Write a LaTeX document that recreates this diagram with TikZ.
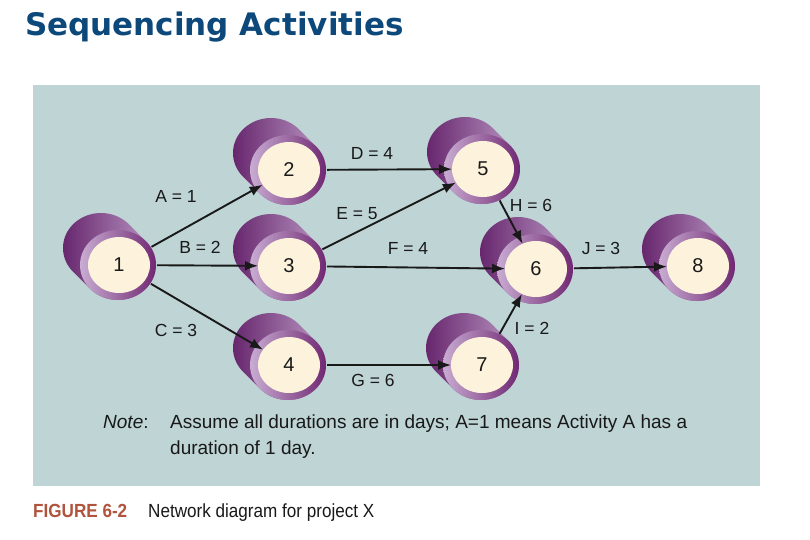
\documentclass[tikz,border=0pt]{standalone}
\usepackage{fontspec}
\setmainfont{Liberation Sans}
\newfontfamily\condfont{Liberation Sans}
\newfontfamily\capfont[FakeStretch=0.9]{Liberation Sans}
\newfontfamily\headfont{DejaVu Sans}
\usepackage{tikz}
\usetikzlibrary{positioning, arrows.meta, shapes.geometric, calc}
\definecolor{ink}{RGB}{25,25,25}
\definecolor{panelbg}{RGB}{190,212,213}
\definecolor{cream}{RGB}{253,243,220}
\definecolor{cyldark}{RGB}{100,34,106}
\definecolor{cyllight}{RGB}{190,158,200}
\definecolor{rimdark}{RGB}{112,40,114}
\definecolor{rimlight}{RGB}{200,172,210}
\definecolor{titleblue}{RGB}{12,72,122}
\definecolor{figred}{RGB}{176,84,62}
% event: name, x, y, number
\newcommand{\evnode}[4]{%
  \shade[left color=cyldark, right color=cyllight]
    (#2-17-26.87,#3+17-24.75) arc[start angle=225, end angle=45, x radius=38pt, y radius=35pt]
    -- (#2+26.87,#3+24.75) arc[start angle=45, end angle=-135, x radius=38pt, y radius=35pt] -- cycle;
  \shade[left color=rimlight, right color=rimdark] (#2,#3) ellipse [x radius=38pt, y radius=35pt];
  \node[evt] (#1) at (#2+1,#3) {#4};
}

\begin{document}
\begin{tikzpicture}[
  x=1pt, y=1pt,
  lbl/.style={font=\condfont\fontsize{17.5}{20}\selectfont, text=ink, inner sep=0pt},
  evt/.style={ellipse, fill=cream, minimum width=62pt, minimum height=56pt,
              inner sep=0pt, outer sep=7pt, text=ink,
              font=\condfont\fontsize{20}{22}\selectfont},
  arr/.style={-{Latex[length=13pt,width=10pt]}, line width=1.9pt, draw=ink, shorten >=-7pt}
]

\useasboundingbox (0,0) rectangle (810,-539);
\fill[white] (0,0) rectangle (810,-539);

\node[anchor=base west, inner sep=0pt, text=titleblue,
      font=\headfont\bfseries\fontsize{31}{36}\selectfont] (title) at (25,-35) {Sequencing Activities};

\node[fill=panelbg, anchor=north west, minimum width=727pt, minimum height=401pt,
      inner sep=0pt] (panel) at (33,-85) {};

\evnode{n1}{118}{-265}{1}
\evnode{n2}{288}{-170}{2}
\evnode{n3}{288}{-266}{3}
\evnode{n4}{288}{-365}{4}
\evnode{n5}{482}{-169}{5}
\evnode{n6}{535}{-269}{6}
\evnode{n7}{481}{-365}{7}
\evnode{n8}{697}{-266}{8}

\draw[arr] (n1) -- (n2);
\draw[arr] (n1) -- (n3);
\draw[arr] (n1) -- (n4);
\draw[arr] (n2) -- (n5);
\draw[arr] (n3) -- (n5);
\draw[arr] (n3) -- (n6);
\draw[arr] (n4) -- (n7);
\draw[arr] (n5) -- (n6);
\draw[arr] (n7) -- (n6);
\draw[arr] (n6) -- (n8);

\node[lbl] (lA) at (176,-196) {A = 1};
\node[lbl] (lB) at (200,-247) {B = 2};
\node[lbl] (lC) at (176,-330) {C = 3};
\node[lbl] (lD) at (372,-153) {D = 4};
\node[lbl] (lE) at (357,-214) {E = 5};
\node[lbl] (lF) at (408,-248) {F = 4};
\node[lbl] (lG) at (373,-380) {G = 6};
\node[lbl] (lH) at (531,-205) {H = 6};
\node[lbl] (lI) at (532,-328) {I = 2};
\node[lbl] (lJ) at (601,-248) {J = 3};

\node[anchor=base west, inner sep=0pt, text=ink,
      font=\condfont\fontsize{19}{22}\selectfont] (notehead) at (103,-428) {\textit{Note}:};
\node[anchor=base west, inner sep=0pt, text=ink, align=left,
      font=\condfont\fontsize{19}{26}\selectfont] (note) at (170,-454)
  {Assume all durations are in days; A=1 means Activity A has a\\ duration of 1 day.};

\node[anchor=base west, inner sep=0pt, text=figred,
      font=\capfont\bfseries\fontsize{19}{22}\selectfont] (fig) at (33,-517) {FIGURE 6-2};
\node[anchor=base west, inner sep=0pt, text=ink,
      font=\capfont\fontsize{19}{22}\selectfont] (caption) at (148,-517) {Network diagram for project X};

\end{tikzpicture}
\end{document}
